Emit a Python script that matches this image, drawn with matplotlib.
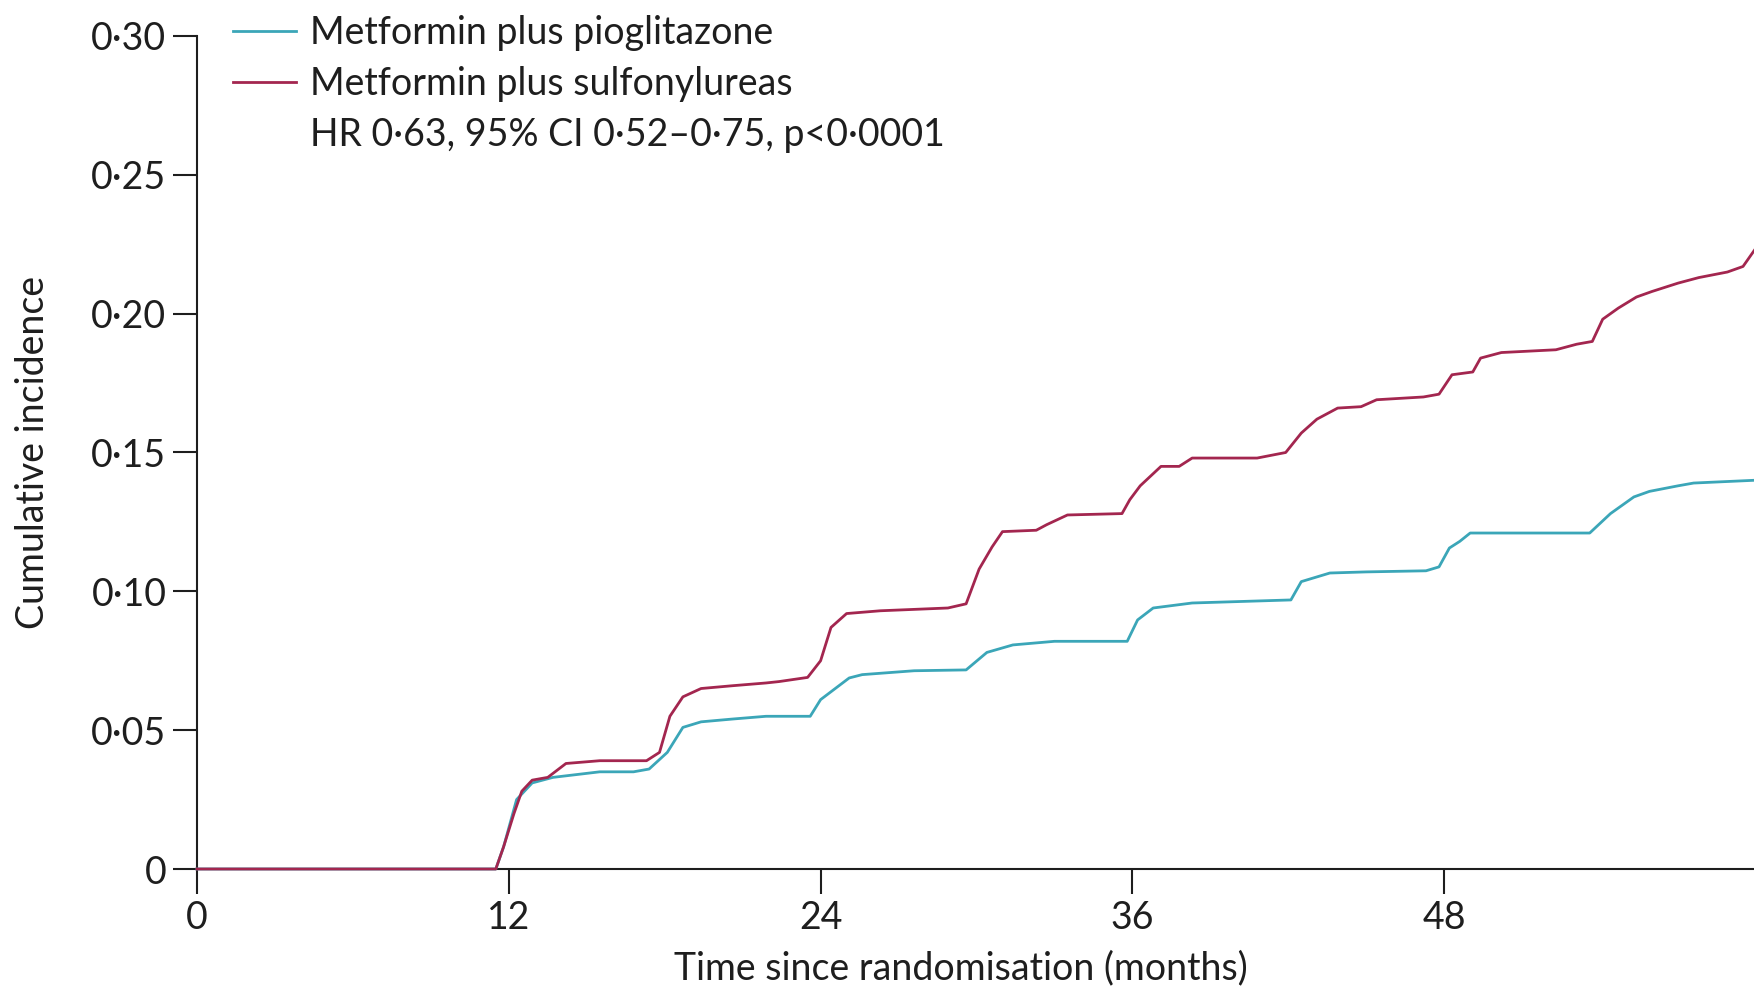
import matplotlib
matplotlib.use('Agg')
import matplotlib.pyplot as plt
from matplotlib import font_manager
from matplotlib.lines import Line2D

# ---------------- data ----------------
months_sulf = [0, 11.5, 11.8, 12.2, 12.5, 12.9, 13.5, 14.2, 15.5, 17.3, 17.8, 18.2, 18.7,
               19.4, 20.6, 21.9, 22.4, 23.5, 24.0, 24.4, 25.0, 26.3, 28.9, 29.6, 30.1,
               30.6, 31.0, 32.3, 32.7, 33.5, 35.6, 35.9, 36.3, 37.1, 37.8, 38.3, 40.8,
               41.9, 42.5, 43.1, 43.9, 44.8, 45.4, 47.2, 47.8, 48.3, 49.1, 49.4, 50.2,
               52.3, 53.1, 53.7, 54.1, 54.7, 55.4, 56.0, 57.0, 57.8, 58.9, 59.5, 59.95]
incidence_sulf = [0, 0, 0.008, 0.020, 0.028, 0.032, 0.033, 0.038, 0.039, 0.039, 0.042, 0.055,
                  0.062, 0.065, 0.066, 0.067, 0.0675, 0.069, 0.075, 0.087, 0.092, 0.093,
                  0.094, 0.0955, 0.108, 0.116, 0.1215, 0.122, 0.124, 0.1275, 0.128, 0.133,
                  0.138, 0.145, 0.145, 0.148, 0.148, 0.150, 0.157, 0.162, 0.166, 0.1665,
                  0.169, 0.170, 0.171, 0.178, 0.179, 0.184, 0.186, 0.187, 0.189, 0.190,
                  0.198, 0.202, 0.206, 0.208, 0.211, 0.213, 0.215, 0.217, 0.223]

months_pio = [0, 11.5, 11.8, 12.3, 12.9, 13.7, 15.5, 16.8, 17.4, 18.1, 18.7, 19.4, 20.6,
              21.9, 23.6, 24.0, 25.1, 25.6, 27.6, 29.6, 30.4, 31.4, 33.0, 35.8, 36.2,
              36.8, 38.3, 42.1, 42.5, 43.6, 45.0, 47.3, 47.8, 48.2, 48.6, 49.0, 53.6,
              54.4, 55.3, 55.9, 57.0, 57.6, 59.95]
incidence_pio = [0, 0, 0.008, 0.025, 0.031, 0.033, 0.035, 0.035, 0.036, 0.042, 0.051, 0.053,
                 0.054, 0.055, 0.055, 0.061, 0.0688, 0.070, 0.0714, 0.0717, 0.078, 0.0807,
                 0.082, 0.082, 0.0897, 0.094, 0.0958, 0.0969, 0.1035, 0.1066, 0.107,
                 0.1074, 0.1088, 0.1156, 0.118, 0.121, 0.121, 0.128, 0.134, 0.136, 0.138,
                 0.139, 0.140]

series_labels = ["Metformin plus pioglitazone", "Metformin plus sulfonylureas"]
stats_label = "HR 0\u00b763, 95% CI 0\u00b752\u20130\u00b775, p<0\u00b70001"

x_ticks = [0, 12, 24, 36, 48]
x_tick_labels = ["0", "12", "24", "36", "48"]
y_ticks = [0, 0.05, 0.10, 0.15, 0.20, 0.25, 0.30]
y_tick_labels = ["0", "0\u00b705", "0\u00b710", "0\u00b715", "0\u00b720", "0\u00b725", "0\u00b730"]

x_label = "Time since randomisation (months)"
y_label = "Cumulative incidence"

# ---------------- style ----------------
TEAL = "#3BA6B8"
RED = "#A3264F"
INK = "#1E1E1E"

names = {f.name for f in font_manager.fontManager.ttflist}
if "Liberation Sans Narrow" in names:
    plt.rcParams["font.family"] = ["Liberation Sans Narrow", "DejaVu Sans"]
    FS = 32.5
else:
    plt.rcParams["font.family"] = ["Lato", "DejaVu Sans"]
    FS = 27

W, H = 1754, 989
fig = plt.figure(figsize=(W / 100, H / 100), dpi=100)
ax = fig.add_axes([197 / W, 1 - 869 / H, 1559 / W, 833 / H])

ax.plot(months_pio, incidence_pio, color=TEAL, lw=2.0, zorder=3, clip_on=False)
ax.plot(months_sulf, incidence_sulf, color=RED, lw=2.0, zorder=4, clip_on=False)

ax.set_xlim(0, 60)
ax.set_ylim(0, 0.30)
ax.set_xticks(x_ticks)
ax.set_xticklabels(x_tick_labels)
ax.set_yticks(y_ticks)
ax.set_yticklabels(y_tick_labels)

for s in ("top", "right"):
    ax.spines[s].set_visible(False)
for s in ("left", "bottom"):
    ax.spines[s].set_linewidth(1.5)
    ax.spines[s].set_color(INK)

ax.tick_params(axis="both", direction="out", width=1.5, colors=INK, labelsize=FS)
ax.tick_params(axis="y", length=17, pad=5)
ax.tick_params(axis="x", length=18, pad=4)

ax.set_xlabel(x_label, fontsize=FS, color=INK)
ax.set_ylabel(y_label, fontsize=FS, color=INK)
ax.xaxis.label.set_va("center")
ax.yaxis.label.set_va("center")
ax.xaxis.set_label_coords((961 - 197) / 1559, -(968 - 869) / 833)
ax.yaxis.set_label_coords((33 - 197) / 1559, 0.5)

fs_px = FS * 100 / 72
handles = [Line2D([], [], color=TEAL, lw=2.0), Line2D([], [], color=RED, lw=2.0),
           Line2D([], [], color="none")]
fig.legend(handles, series_labels + [stats_label], loc="upper left",
           bbox_to_anchor=(233 / W, 1 - 15 / H), frameon=False, fontsize=FS,
           labelcolor=INK, handlelength=63 / fs_px, handletextpad=14 / fs_px,
           labelspacing=0.40, borderpad=0, borderaxespad=0)

fig.savefig("out.png", dpi=100)
